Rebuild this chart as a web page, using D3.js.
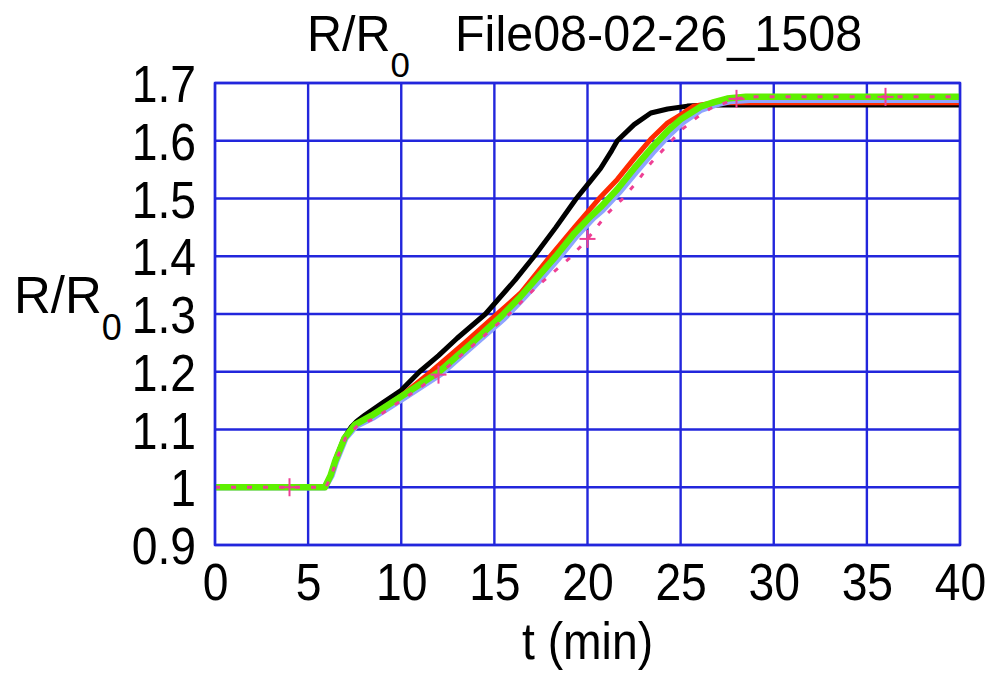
<!DOCTYPE html>
<html>
<head>
<meta charset="utf-8">
<script src="https://cdn.jsdelivr.net/npm/d3@7"></script>
<style>
  html, body { margin: 0; padding: 0; background: #fff; }
  svg text { font-family: "Liberation Sans", Arial, sans-serif; fill: #000; }
</style>
</head>
<body>
<svg id="chart" width="987" height="673"></svg>
<script>
// Normalised resistance R/R0 against time (min), five recorded traces.
const xTicks = [0, 5, 10, 15, 20, 25, 30, 35, 40];
const yTicks = [0.9, 1.0, 1.1, 1.2, 1.3, 1.4, 1.5, 1.6, 1.7];
const yTickLabels = ["0.9", "1", "1.1", "1.2", "1.3", "1.4", "1.5", "1.6", "1.7"];

const blackT = [0, 5.9, 6.2, 6.5, 6.9, 7.3, 7.6, 8.05, 9, 10, 10.98, 12, 13, 14.52, 16.12, 17.14, 18.3, 19.4, 20.1, 20.7, 21.3, 21.6, 22.5, 23.4, 24.3, 25.36, 26.5, 40];
const blackV = [1, 1, 1.02, 1.05, 1.083, 1.104, 1.114, 1.125, 1.146, 1.168, 1.2, 1.228, 1.258, 1.3, 1.359, 1.4, 1.45, 1.5, 1.528, 1.552, 1.583, 1.6, 1.628, 1.648, 1.655, 1.66, 1.662, 1.662];

const redT = [0, 5.9, 6.2, 6.5, 6.9, 7.3, 7.6, 8.3, 10, 11.6, 13.4, 15.14, 16.4, 18.0, 19.3, 20.6, 21.6, 22.5, 23.4, 24.3, 25, 25.7, 26.8, 40];
const redV = [1, 1, 1.02, 1.05, 1.08, 1.1, 1.11, 1.122, 1.158, 1.2, 1.25, 1.3, 1.336, 1.4, 1.45, 1.499, 1.533, 1.569, 1.603, 1.631, 1.645, 1.66, 1.666, 1.666];

const blueT = [0, 5.9, 6.25, 6.5, 7.0, 7.55, 8.5, 10, 12.1, 13.9, 15.5, 16.5, 17.4, 18.4, 19.4, 20.3, 20.8, 21.7, 22.6, 23.5, 24.4, 25.1, 26.1, 26.9, 27.7, 28.7, 40];
const blueV = [1, 1, 1.02, 1.045, 1.085, 1.106, 1.121, 1.152, 1.196, 1.247, 1.292, 1.326, 1.358, 1.395, 1.435, 1.466, 1.48, 1.511, 1.546, 1.58, 1.611, 1.632, 1.654, 1.663, 1.669, 1.671, 1.671];

const greenT = [0, 5.9, 6.2, 6.45, 6.95, 7.5, 8.4, 10, 12.04, 13.8, 15.4, 16.4, 17.3, 18.3, 19.3, 20.2, 20.7, 21.6, 22.5, 23.4, 24.3, 25, 26.07, 26.8, 27.5, 28.5, 40];
const greenV = [1, 1, 1.02, 1.045, 1.085, 1.108, 1.124, 1.157, 1.2, 1.25, 1.297, 1.33, 1.363, 1.4, 1.44, 1.47, 1.485, 1.516, 1.552, 1.586, 1.617, 1.637, 1.659, 1.667, 1.673, 1.676, 1.676];

const pinkT = [0, 5.95, 6.25, 6.55, 7.0, 7.6, 8.6, 10, 12, 14, 15.8, 17.2, 19.15, 20, 21.07, 21.87, 22.68, 23.39, 24.28, 25.09, 25.9, 26.6, 27.5, 28.04, 29, 40];
const pinkV = [1, 1, 1.02, 1.05, 1.085, 1.105, 1.12, 1.15, 1.195, 1.25, 1.3, 1.345, 1.4, 1.43, 1.474, 1.499, 1.53, 1.561, 1.592, 1.62, 1.641, 1.656, 1.667, 1.673, 1.676, 1.676];
const pinkMarkT = [4, 12, 20, 28, 36];

const series = [
  { t: blackT, v: blackV, color: "#000000", width: 5 },
  { t: redT,   v: redV,   color: "#ff2a00", width: 5 },
  { t: blueT,  v: blueV,  color: "#8ea4ff", width: 6.5 },
  { t: greenT, v: greenV, color: "#5ef000", width: 6.5 },
  { t: pinkT,  v: pinkV,  color: "#ee3f94", width: 3, dash: "5,11", marks: pinkMarkT }
];

const svg = d3.select("#chart");
const plotLeft = 215, plotRight = 960, plotTop = 83, plotBottom = 545;
const x = d3.scaleLinear().domain([0, 40]).range([plotLeft, plotRight]);
const y = d3.scaleLinear().domain([0.9, 1.7]).range([plotBottom, plotTop]);
const gridColor = "#2226dc";
const squeeze = 0.89;   // the labels use a slightly condensed face

// grid
const grid = svg.append("g");
grid.selectAll("line.vx").data(xTicks).enter().append("line")
  .attr("x1", d => x(d)).attr("x2", d => x(d))
  .attr("y1", plotTop).attr("y2", plotBottom)
  .attr("stroke", gridColor).attr("stroke-width", 2.4);
grid.selectAll("line.hy").data(yTicks).enter().append("line")
  .attr("x1", plotLeft).attr("x2", plotRight)
  .attr("y1", d => y(d)).attr("y2", d => y(d))
  .attr("stroke", gridColor).attr("stroke-width", 2.4);

// traces
const lineGen = (s) => d3.line().x((d, i) => x(s.t[i])).y((d, i) => y(s.v[i]))(s.t);
const plot = svg.append("g");
series.forEach(s => {
  plot.append("path")
    .attr("d", lineGen(s))
    .attr("fill", "none")
    .attr("stroke", s.color)
    .attr("stroke-width", s.width)
    .attr("stroke-linejoin", "round")
    .attr("stroke-dasharray", s.dash || null);
  if (s.marks) {
    const interp = t => {
      const i = d3.bisectRight(s.t, t) - 1;
      const j = Math.min(i + 1, s.t.length - 1);
      if (j === i) return s.v[i];
      const f = (t - s.t[i]) / (s.t[j] - s.t[i]);
      return s.v[i] + f * (s.v[j] - s.v[i]);
    };
    const m = plot.selectAll(null).data(s.marks).enter().append("g")
      .attr("transform", d => `translate(${x(d)},${y(interp(d))})`);
    m.append("line").attr("x1", -8).attr("x2", 8).attr("y1", 0).attr("y2", 0)
      .attr("stroke", s.color).attr("stroke-width", 2);
    m.append("line").attr("x1", 0).attr("x2", 0).attr("y1", -9).attr("y2", 9)
      .attr("stroke", s.color).attr("stroke-width", 2);
  }
});

// axes (labels only; grid provides the lines)
const yPad = 19;
const yAxis = d3.axisLeft(y).tickValues(yTicks)
  .tickFormat((d, i) => yTickLabels[i]).tickSize(0).tickPadding(yPad);
const gy = svg.append("g").attr("transform", `translate(${plotLeft},0)`).call(yAxis);
gy.select(".domain").remove();
gy.selectAll("text").attr("font-size", 52).attr("font-family", "Liberation Sans, Arial, sans-serif")
  .attr("fill", "#000").attr("dy", "0.36em")
  .attr("x", -yPad / squeeze).attr("transform", `scale(${squeeze},1)`);

const xAxis = d3.axisBottom(x).tickValues(xTicks).tickSize(0).tickPadding(18);
const gx = svg.append("g").attr("transform", `translate(0,${plotBottom})`).call(xAxis);
gx.select(".domain").remove();
gx.selectAll("text").attr("font-size", 52).attr("font-family", "Liberation Sans, Arial, sans-serif")
  .attr("fill", "#000").attr("dy", "0.71em").attr("transform", `scale(${squeeze},1)`);

// frame
svg.append("rect").attr("x", plotLeft).attr("y", plotTop)
  .attr("width", plotRight - plotLeft).attr("height", plotBottom - plotTop)
  .attr("fill", "none").attr("stroke", gridColor).attr("stroke-width", 2.4);

// title
const title = svg.append("g").attr("transform", "translate(307,51) scale(0.97,1)")
  .append("text").attr("x", 0).attr("y", 0).attr("font-size", 50);
title.append("tspan").text("R/R");
title.append("tspan").attr("font-size", 36).attr("dy", 26).text("0");
title.append("tspan").attr("x", (455 - 307) / 0.97).attr("y", 0).text("File08-02-26_1508");

// y label
const yl = svg.append("text").attr("x", 14).attr("y", 313).attr("font-size", 51);
yl.append("tspan").text("R/R");
yl.append("tspan").attr("font-size", 36).attr("dy", 27).text("0");

// x label
svg.append("g").attr("transform", `translate(${x(20)},659) scale(${squeeze},1)`)
  .append("text").attr("font-size", 52).attr("text-anchor", "middle").text("t (min)");
</script>
</body>
</html>
